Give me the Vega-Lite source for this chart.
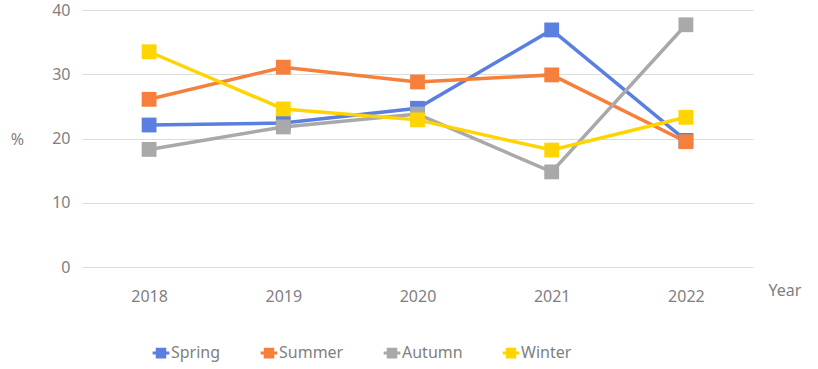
{
  "$schema": "https://vega.github.io/schema/vega-lite/v6.json",
  "width": 671,
  "height": 257,
  "autosize": {"type": "none"},
  "padding": {"left": 82, "top": 10, "right": 65, "bottom": 102},
  "background": "white",
  "config": {
    "view": {"stroke": null},
    "font": "Noto Sans",
    "axis": {"labelColor": "#7f7f7f", "titleColor": "#7f7f7f", "labelFont": "Noto Sans", "titleFont": "Noto Sans"},
    "legend": {"labelColor": "#7f7f7f", "labelFont": "Noto Sans"}
  },
  "data": {
    "values": [
      {"Year": "2018", "Season": "Spring", "Value": 22.1},
      {"Year": "2019", "Season": "Spring", "Value": 22.4},
      {"Year": "2020", "Season": "Spring", "Value": 24.7},
      {"Year": "2021", "Season": "Spring", "Value": 36.9},
      {"Year": "2022", "Season": "Spring", "Value": 19.7},
      {"Year": "2018", "Season": "Summer", "Value": 26.1},
      {"Year": "2019", "Season": "Summer", "Value": 31.1},
      {"Year": "2020", "Season": "Summer", "Value": 28.8},
      {"Year": "2021", "Season": "Summer", "Value": 29.9},
      {"Year": "2022", "Season": "Summer", "Value": 19.5},
      {"Year": "2018", "Season": "Autumn", "Value": 18.3},
      {"Year": "2019", "Season": "Autumn", "Value": 21.8},
      {"Year": "2020", "Season": "Autumn", "Value": 23.8},
      {"Year": "2021", "Season": "Autumn", "Value": 14.8},
      {"Year": "2022", "Season": "Autumn", "Value": 37.7},
      {"Year": "2018", "Season": "Winter", "Value": 33.5},
      {"Year": "2019", "Season": "Winter", "Value": 24.6},
      {"Year": "2020", "Season": "Winter", "Value": 22.9},
      {"Year": "2021", "Season": "Winter", "Value": 18.2},
      {"Year": "2022", "Season": "Winter", "Value": 23.3}
    ]
  },
  "encoding": {
    "x": {
      "field": "Year", "type": "ordinal",
      "scale": {"type": "point", "padding": 0.5},
      "axis": {
        "title": "Year", "labelAngle": 0, "labelFontSize": 16, "labelPadding": 21,
        "domain": false, "ticks": false, "grid": false,
        "titleFontSize": 16, "titleFontWeight": "normal",
        "titleX": 686, "titleY": 23, "titleAlign": "left", "titleBaseline": "middle"
      }
    },
    "y": {
      "field": "Value", "type": "quantitative",
      "scale": {"domain": [0, 40]},
      "axis": {
        "title": "%", "values": [0, 10, 20, 30, 40], "labelFontSize": 16, "labelPadding": 12,
        "domain": false, "ticks": false, "gridColor": "#dcdcdc", "gridWidth": 1,
        "titleAngle": 0, "titleFontSize": 16, "titleFontWeight": "normal",
        "titleX": -65, "titleY": 129, "titleAlign": "center", "titleBaseline": "middle"
      }
    },
    "color": {
      "field": "Season", "type": "nominal",
      "scale": {"domain": ["Spring", "Summer", "Autumn", "Winter"], "range": ["#5b7fe0", "#f77f3c", "#a9a9a9", "#ffd400"]},
      "legend": {
        "title": null, "orient": "none", "direction": "horizontal",
        "legendX": 69, "legendY": 333, "labelFontSize": 16, "columnPadding": 33,
        "symbolType": "M-1,0H1M-0.45,-0.45H0.45V0.45H-0.45Z", "symbolSize": 280,
        "symbolStrokeWidth": 3, "labelOffset": 0
      }
    }
  },
  "layer": [
    {"mark": {"type": "line", "strokeWidth": 3.5}},
    {"mark": {"type": "point", "shape": "square", "filled": true, "size": 220, "opacity": 1}}
  ]
}
